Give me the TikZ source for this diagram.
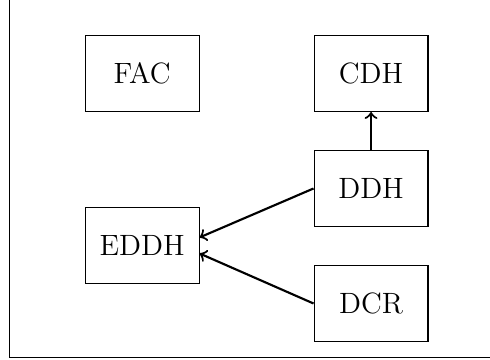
\documentclass[tikz,border=0pt]{standalone}
\usepackage{tikz}
\usetikzlibrary{positioning,calc}

\begin{document}
\begin{tikzpicture}[
  box/.style={
    rectangle, draw, align=center,
    font=\fontsize{11pt}{13pt}\selectfont,
    minimum width=1.5cm, minimum height=1cm
  },
  arr/.style={->, thick}
]

\useasboundingbox (-1.87,-3.76) rectangle (4.58,0.967);
\draw (-1.745,-3.733) rectangle (5,1.5);

\node[box] (FAC)                       {FAC};
\node[box, right=1.5cm of FAC] (CDH)   {CDH};
\node[box, below=0.5cm of CDH] (DDH)   {DDH};
\node[box, below=0.5cm of DDH] (DCR)   {DCR};
\node[box, below=1.25cm of FAC] (EDDH) {EDDH};

\draw[arr] (DDH) -- (CDH);
\draw[arr] (DDH.west) -- ([yshift=3pt]EDDH.east);
\draw[arr] (DCR.west) -- ([yshift=-3pt]EDDH.east);

\end{tikzpicture}
\end{document}
